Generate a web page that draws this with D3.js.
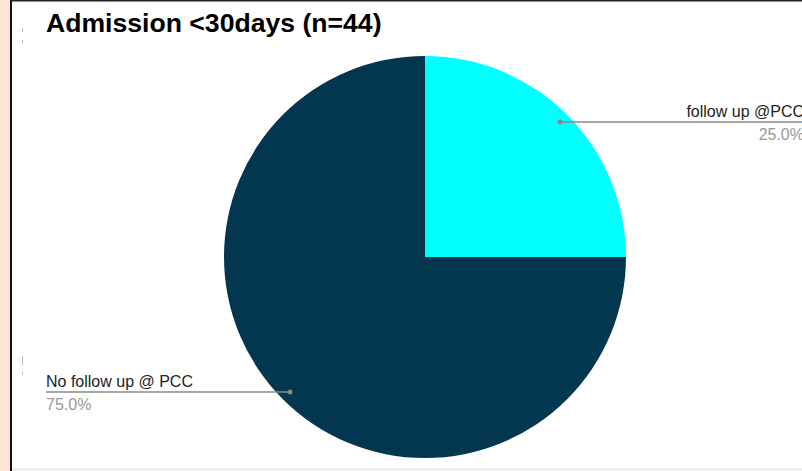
<!DOCTYPE html>
<html>
<head>
<meta charset="utf-8">
<script src="https://cdn.jsdelivr.net/npm/d3@7"></script>
<style>
  html, body { margin: 0; padding: 0; background: #fff; }
  svg { display: block; }
</style>
</head>
<body>
<svg id="chart" width="802" height="471"></svg>
<script>
// Slices, drawn clockwise from 12 o'clock
const categories = ["follow up @PCC", "No follow up @ PCC"];
const values = [11, 33];
const colors = ["#00FFFF", "#03374F"];
const title = "Admission <30days (n=44)";

const W = 802, H = 471;
const svg = d3.select("#chart");

// frame: peach strip on the left with a dark border line
svg.append("rect").attr("x", 0).attr("y", 0).attr("width", 10).attr("height", H).attr("fill", "#FBE5D6");
svg.append("rect").attr("x", 10).attr("y", 0).attr("width", 2).attr("height", H).attr("fill", "#111");
svg.append("rect").attr("x", 10).attr("y", 0).attr("width", W - 10).attr("height", 1.5).attr("fill", "#222");
svg.append("rect").attr("x", 12).attr("y", H - 3).attr("width", W - 12).attr("height", 3).attr("fill", "#eee");

// faint clipped marks at the left edge
[[22, 28, 4], [22, 40, 3], [22, 356, 9], [22, 372, 3]].forEach(([x, y, h]) => {
  svg.append("rect").attr("x", x).attr("y", y).attr("width", 1).attr("height", h).attr("fill", "#bbb");
});

svg.append("text")
  .attr("x", 46).attr("y", 32)
  .attr("font-family", "Liberation Sans, Arial, sans-serif")
  .attr("font-weight", "bold")
  .attr("font-size", 26.6)
  .attr("fill", "#000")
  .text(title);

const cx = 425, cy = 257, r = 201;
const total = d3.sum(values);
const data = categories.map((c, i) => ({ name: c, value: values[i], color: colors[i] }));

const pie = d3.pie().value(d => d.value).sort(null);
const arc = d3.arc().innerRadius(0).outerRadius(r);
const arcs = pie(data);

const g = svg.append("g").attr("transform", `translate(${cx},${cy})`);
g.selectAll("path").data(arcs).enter().append("path")
  .attr("d", arc)
  .attr("fill", d => d.data.color);

// leader lines and labels
const fmt = d3.format(".1f");
const labelArc = d3.arc().innerRadius(r * 0.95).outerRadius(r * 0.95);
const labelSpec = [
  { anchor: "end", textX: 804, lineX: 804 },
  { anchor: "start", textX: 46, lineX: 46 }
];

arcs.forEach((a, i) => {
  const [px, py] = labelArc.centroid(a);
  const x0 = cx + px, y0 = cy + py;
  const spec = labelSpec[i];
  svg.append("line")
    .attr("x1", x0).attr("y1", y0)
    .attr("x2", spec.lineX).attr("y2", y0)
    .attr("stroke", "#888").attr("stroke-width", 1.5);
  svg.append("circle").attr("cx", x0).attr("cy", y0).attr("r", 2.5).attr("fill", "#888");
  svg.append("text")
    .attr("x", spec.textX).attr("y", y0 - 5)
    .attr("text-anchor", spec.anchor)
    .attr("font-family", "Liberation Sans, Arial, sans-serif")
    .attr("font-size", 16)
    .attr("fill", "#222")
    .text(a.data.name);
  svg.append("text")
    .attr("x", spec.textX).attr("y", y0 + 18)
    .attr("text-anchor", spec.anchor)
    .attr("font-family", "Liberation Sans, Arial, sans-serif")
    .attr("font-size", 16)
    .attr("fill", "#999")
    .text(fmt(a.data.value / total * 100) + "%");
});
</script>
</body>
</html>
